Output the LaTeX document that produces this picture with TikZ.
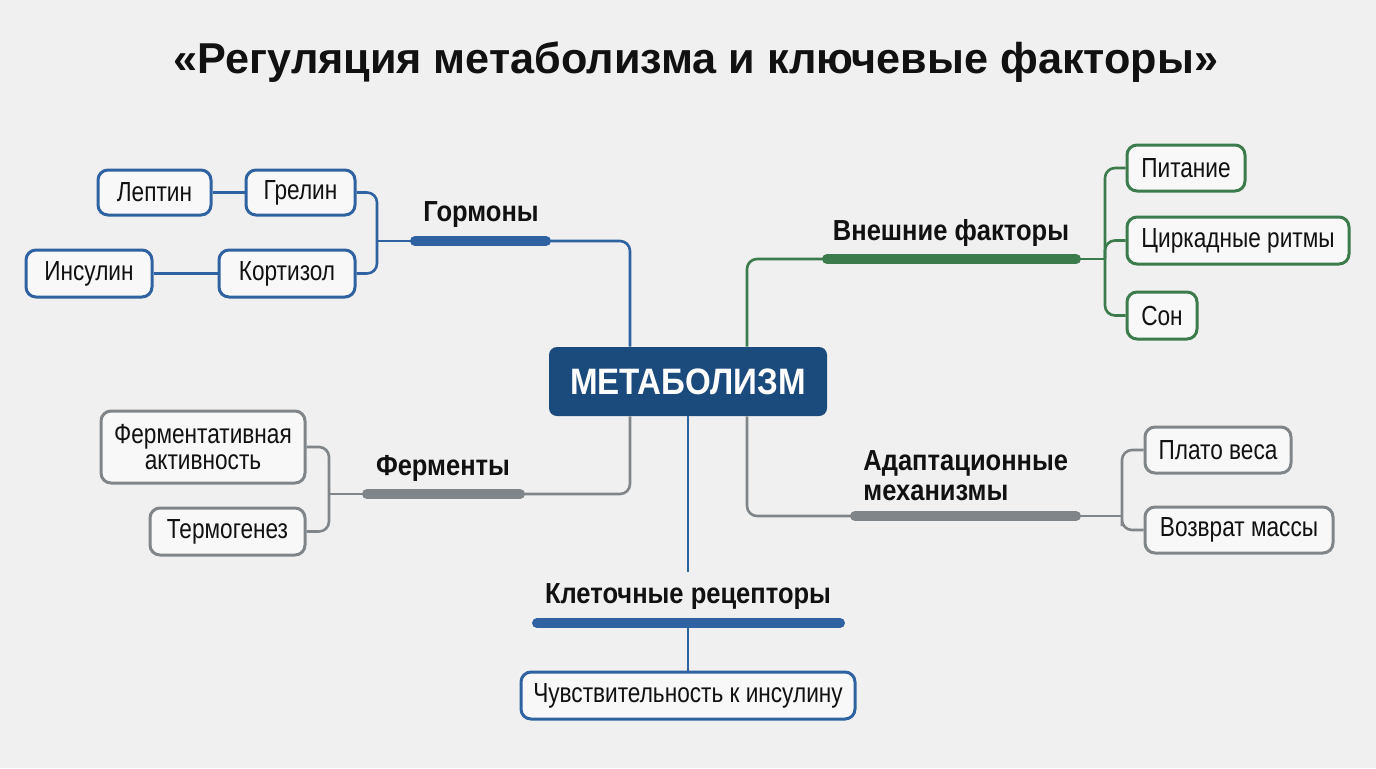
\documentclass[tikz,border=0pt]{standalone}
\usepackage{fontspec}
\setmainfont{Liberation Sans}
\newfontfamily\condf[FakeStretch=0.82]{Liberation Sans}
\newfontfamily\labf[FakeStretch=0.88]{Liberation Sans}
\newfontfamily\mainf[FakeStretch=0.9]{Liberation Sans}
\definecolor{bg}{HTML}{F0F0F0}
\definecolor{boxfill}{HTML}{F8F8F8}
\definecolor{blueC}{HTML}{2F62A0}
\definecolor{greenC}{HTML}{3B7B4C}
\definecolor{grayC}{HTML}{7F8588}
\definecolor{mainC}{HTML}{1B4A7C}
\definecolor{txt}{HTML}{111111}
\begin{document}
\begin{tikzpicture}[x=0.5pt,y=-0.5pt,
  box/.style={draw, line width=1.5pt, rounded corners=5pt, fill=boxfill, inner sep=0pt, text=txt,
    font=\condf\fontsize{13.8}{13}\selectfont, align=center},
  bbox/.style={box, draw=blueC},
  gbox/.style={box, draw=greenC},
  grbox/.style={box, draw=grayC},
  conn/.style={line width=1.3pt, rounded corners=5pt},
  bar/.style={line width=5pt, line cap=round},
  lab/.style={text=txt, font=\labf\bfseries\fontsize{14.5}{15}\selectfont, inner sep=0pt}]
\fill[bg] (0,0) rectangle (1376,768);
\useasboundingbox (0,0) rectangle (1376,768);

% title
\node[text=txt, font=\bfseries\fontsize{21.6}{26}\selectfont] (title) at (696,62) {«Регуляция метаболизма и ключевые факторы»};

% central
\node[fill=mainC, rounded corners=4pt, minimum width=139pt, minimum height=34.5pt, inner sep=0pt,
  text=white, font=\mainf\bfseries\fontsize{18.4}{20}\selectfont] (main) at (688,381.5) {МЕТАБОЛИЗМ};

% coordinates
\coordinate (xa) at (630,0);
\coordinate (xb) at (747,0);
\coordinate (gL) at (415,241);  \coordinate (gR) at (546,241); \coordinate (hb) at (377,241);
\coordinate (eL) at (827,259);  \coordinate (eR) at (1076,259); \coordinate (eb) at (1105,259);
\coordinate (fL) at (367,494);  \coordinate (fR) at (520,494); \coordinate (fb) at (329,494);
\coordinate (aL) at (855,516);  \coordinate (aR) at (1076,516); \coordinate (ab) at (1122,516);
\coordinate (rL) at (537,623);  \coordinate (rR) at (840,623); \coordinate (rBar) at (688,623);
\coordinate (rTop) at (688,572);

% leaf boxes
\node[bbox, minimum width=56.5pt, minimum height=22.5pt] (lep) at (154.5,192.5) {Лептин};
\node[bbox, minimum width=54.5pt, minimum height=22.5pt] (grel) at (300.5,192.5) {Грелин};
\node[bbox, minimum width=63pt, minimum height=23.5pt] (ins) at (89,273.5) {Инсулин};
\node[bbox, minimum width=68pt, minimum height=23.5pt] (kort) at (287,273.5) {Кортизол};

\node[gbox, minimum width=59pt, minimum height=23pt] (pit) at (1186,168) {Питание};
\node[gbox, minimum width=111pt, minimum height=23.5pt] (cirk) at (1238,240.5) {Циркадные ритмы};
\node[gbox, minimum width=35pt, minimum height=23.5pt] (son) at (1162,315.5) {Сон};

\node[grbox, minimum width=102pt, minimum height=36pt] (ferm) at (203,447) {Ферментативная\\активность};
\node[grbox, minimum width=77.5pt, minimum height=23.5pt] (termo) at (227.5,531.5) {Термогенез};

\node[grbox, minimum width=73pt, minimum height=23pt] (plato) at (1218,450) {Плато веса};
\node[grbox, minimum width=94pt, minimum height=23pt] (voz) at (1239,530) {Возврат массы};

\node[bbox, minimum width=167pt, minimum height=23.5pt] (chuv) at (688,695.5) {Чувствительность к инсулину};

% labels
\node[lab] (lg) at (481,215) {Гормоны};
\node[lab] (le) at (951,233) {Внешние факторы};
\node[lab] (lf) at (443,468) {Ферменты};
\node[lab, anchor=west, align=left] (la) at (863,476) {Адаптационные\\механизмы};
\node[lab] (lr) at (688,597) {Клеточные рецепторы};

% main connectors
\draw[conn, blueC] (main.north -| xa) |- (gR);
\draw[conn, greenC] (main.north -| xb) |- (eL);
\draw[conn, grayC] (main.south -| xa) |- (fR);
\draw[conn, grayC] (main.south -| xb) |- (aL);
\draw[conn, blueC] (main.south) -- (rTop);
\draw[conn, blueC] (rBar) -- (chuv.north);

% bars
\draw[bar, blueC] (gL) -- (gR);
\draw[bar, greenC] (eL) -- (eR);
\draw[bar, grayC] (fL) -- (fR);
\draw[bar, grayC] (aL) -- (aR);
\draw[bar, blueC] (rL) -- (rR);

% hormones
\draw[conn, blueC] (lep) -- (grel);
\draw[conn, blueC] (ins) -- (kort);
\draw[conn, blueC] (grel.east) -| (hb) |- (kort.east);
\draw[conn, blueC] (hb) -- (gL);

% external
\draw[conn, greenC] (pit.west) -| (eb) |- (son.west);
\draw[conn, greenC] (cirk.west) -| (eb);
\draw[conn, greenC] (eR) -- (eb);

% ferments
\draw[conn, grayC] (ferm.east) -| (fb) |- (termo.east);
\draw[conn, grayC] (fb) -- (fL);

% adaptation
\draw[conn, grayC] (plato.west) -| (ab) |- (voz.west);
\draw[conn, grayC] (aR) -- (ab);
\end{tikzpicture}
\end{document}
